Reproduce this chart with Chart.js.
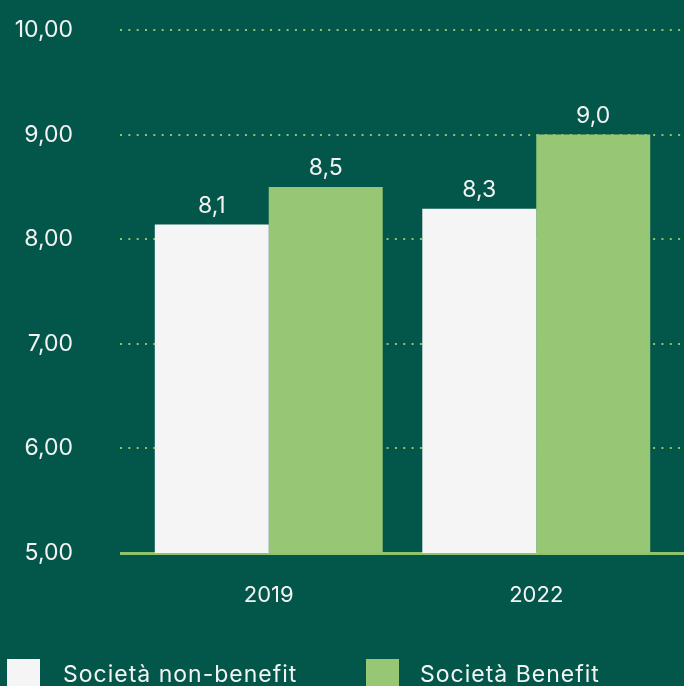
<!DOCTYPE html>
<html>
<head>
<meta charset="utf-8">
<script src="https://cdn.jsdelivr.net/npm/chart.js@4"></script>
<style>
  html, body { margin: 0; padding: 0; background: #02574a; overflow: hidden; }
  #wrap { position: relative; width: 684px; height: 686px; background: #02574a; overflow: hidden; }
  #legend { position: absolute; left: 0; top: 0; width: 684px; height: 686px; pointer-events: none; }
  .box { position: absolute; width: 33px; height: 33px; top: 659px; }
  .lbl { position: absolute; top: 659px; font-family: Inter, "Noto Sans", sans-serif; font-size: 23px; letter-spacing: 1px; color: #f3f3f3; white-space: nowrap; line-height: 30px; }
</style>
</head>
<body>
<div id="wrap">
  <canvas id="c" width="684" height="686"></canvas>
  <div id="legend"></div>
</div>
<script>
const categories = ['2019', '2022'];
const seriesNames = ['Società non-benefit', 'Società Benefit'];
const nonBenefit = [8.14, 8.29];
const benefit = [8.5, 9.0];
const yTicks = [5, 6, 7, 8, 9, 10];
const colors = ['#f5f5f5', '#97c774'];

const FONT = 'Inter, "Noto Sans", sans-serif';
const fmtTick = v => v.toFixed(2).replace('.', ',');
const fmtVal = v => v.toFixed(1).replace('.', ',');

const gridPlugin = {
  id: 'gridPlugin',
  beforeDatasetsDraw(chart) {
    const ctx = chart.ctx;
    const y = chart.scales.y;
    ctx.save();
    ctx.strokeStyle = '#8fc46c';
    yTicks.forEach(t => {
      const py = Math.round(y.getPixelForValue(t));
      ctx.beginPath();
      if (t === yTicks[0]) {
        ctx.setLineDash([]);
        ctx.lineWidth = 3;
        ctx.moveTo(120, py + 0.5);
        ctx.lineTo(684, py + 0.5);
      } else {
        ctx.setLineDash([2, 6.33]);
        ctx.lineWidth = 2;
        ctx.moveTo(120, py);
        ctx.lineTo(684, py);
      }
      ctx.stroke();
    });
    ctx.restore();
  }
};

const labelPlugin = {
  id: 'labelPlugin',
  afterDatasetsDraw(chart) {
    const ctx = chart.ctx;
    ctx.save();
    ctx.font = '23px ' + FONT;
    ctx.fillStyle = '#f3f3f3';
    ctx.textAlign = 'center';
    ctx.textBaseline = 'alphabetic';
    chart.data.datasets.forEach((ds, i) => {
      chart.getDatasetMeta(i).data.forEach((bar, j) => {
        ctx.fillText(fmtVal(ds.data[j]), bar.x, bar.y - 12);
      });
    });
    ctx.restore();
  }
};

const chart = new Chart(document.getElementById('c'), {
  type: 'bar',
  data: {
    labels: categories,
    datasets: [
      { label: seriesNames[0], data: nonBenefit, backgroundColor: colors[0], borderWidth: 0 },
      { label: seriesNames[1], data: benefit, backgroundColor: colors[1], borderWidth: 0 }
    ]
  },
  options: {
    responsive: false,
    animation: false,
    devicePixelRatio: 1,
    layout: { padding: { top: 30, right: 14, left: 0, bottom: 0 } },
    datasets: { bar: { categoryPercentage: 0.852, barPercentage: 1.0 } },
    plugins: { legend: { display: false }, tooltip: { enabled: false } },
    scales: {
      x: {
        grid: { display: false, drawTicks: false },
        border: { display: false },
        ticks: { color: '#f3f3f3', font: { family: FONT, size: 22 }, padding: 29 },
        afterFit(scale) { scale.height = 133; }
      },
      y: {
        min: 5, max: 10,
        grid: { display: false, drawTicks: false },
        border: { display: false },
        afterBuildTicks(scale) { scale.ticks = yTicks.map(v => ({ value: v })); },
        ticks: { color: '#f3f3f3', font: { family: FONT, size: 23 }, padding: 62, callback: v => fmtTick(v) },
        afterFit(scale) { scale.width = 135; scale.paddingTop = 0; scale.paddingBottom = 0; }
      }
    }
  },
  plugins: [gridPlugin, labelPlugin]
});

const legend = document.getElementById('legend');
const lx = [[7, 63], [366, 420]];
seriesNames.forEach((n, i) => {
  const b = document.createElement('div');
  b.className = 'box';
  b.style.left = lx[i][0] + 'px';
  b.style.background = colors[i];
  legend.appendChild(b);
  const t = document.createElement('div');
  t.className = 'lbl';
  t.style.left = lx[i][1] + 'px';
  t.textContent = n;
  legend.appendChild(t);
});
</script>
</body>
</html>
